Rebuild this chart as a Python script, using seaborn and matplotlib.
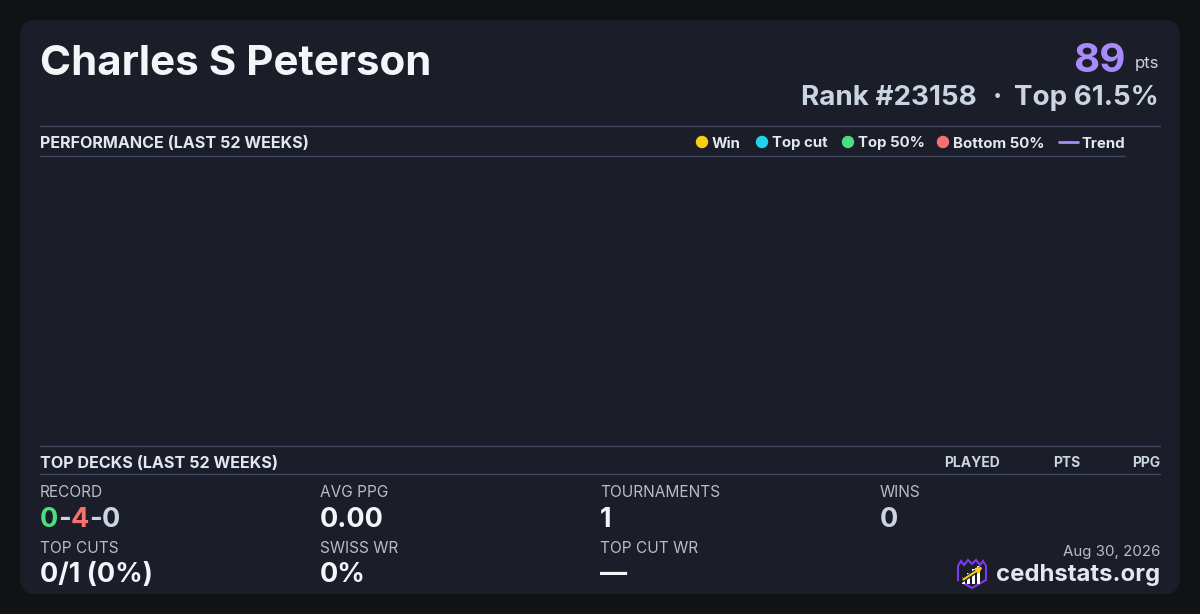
import seaborn as sns
import numpy as np
import matplotlib.pyplot as plt
import pandas as pd
from matplotlib.patches import FancyBboxPatch, Polygon, Rectangle

# player card data
player_name = "Charles S Peterson"
points = 89
rank = 23158
top_pct = 61.5
card_date = "Aug 30, 2026"
site = "cedhstats.org"

# performance chart (last 52 weeks) - nothing recorded
perf_weeks = []
perf_points = []
perf_result = []

legend_labels = ["Win", "Top cut", "Top 50%", "Bottom 50%"]
legend_colors = ["#facc15", "#22d3ee", "#4ade80", "#f87171"]
trend_label = "Trend"
deck_headers = ["PLAYED", "PTS", "PPG"]

# record W-L-D
record = [0, 4, 0]
stat_labels_row1 = ["RECORD", "AVG PPG", "TOURNAMENTS", "WINS"]
stat_values_row1 = [None, "0.00", "1", "0"]
stat_labels_row2 = ["TOP CUTS", "SWISS WR", "TOP CUT WR"]
stat_values_row2 = ["0/1 (0%)", "0%", "\u2014"]

sns.set_theme(style="dark")
plt.rcParams['font.family'] = ['Inter', 'DejaVu Sans']

BG = "#111216"
CARD = "#1b1d28"
LINE = "#3d4860"
WHITE = "#f3f5f9"
LIGHT = "#cbd5e1"
MUTED = "#b8bdc8"
PURPLE = "#a78bfa"

fig = plt.figure(figsize=(12, 6.14), dpi=100, facecolor=BG)
ax = fig.add_axes([0, 0, 1, 1])
ax.set_xlim(0, 1200)
ax.set_ylim(614, 0)
ax.axis('off')
ax.set_facecolor(BG)

ax.add_patch(FancyBboxPatch((20, 20), 1160, 574, boxstyle="round,pad=0,rounding_size=16",
                            fc=CARD, ec="none", zorder=0))

# header
ax.text(40, 75, player_name, color=WHITE, fontsize=30.3, fontweight='bold', va='baseline', ha='left')
ax.text(1126, 72, str(points), color=PURPLE, fontsize=29, fontweight='bold', va='baseline', ha='right')
ax.text(1159, 68, "pts", color=LIGHT, fontsize=12, va='baseline', ha='right')
ax.text(977, 105, f"Rank #{rank}", color=LIGHT, fontsize=20, fontweight='bold', va='baseline', ha='right')
ax.text(997, 105, "\u00b7", color=LIGHT, fontsize=20, fontweight='bold', va='baseline', ha='center')
ax.text(1159, 105, f"Top {top_pct}%", color=LIGHT, fontsize=20, fontweight='bold', va='baseline', ha='right')

# section lines
ax.plot([40, 1160], [126, 126], color=LINE, lw=1)
ax.plot([40, 1125], [156, 156], color=LINE, lw=1)
ax.plot([40, 1160], [446, 446], color=LINE, lw=1)
ax.plot([40, 1160], [474, 474], color=LINE, lw=1)

ax.text(40, 148, "PERFORMANCE (LAST 52 WEEKS)", color="#e2e8f0", fontsize=11.6, fontweight='bold', va='baseline')

# legend
leg_marker_x = [702, 762, 848, 943]
for lx, lab, col in zip(leg_marker_x, legend_labels, legend_colors):
    ax.scatter([lx], [142], s=80, color=col, edgecolor='none', zorder=3)
    ax.text(lx + 10, 147.5, lab, color="#e2e8f0", fontsize=10.8, fontweight='bold', va='baseline')
ax.plot([1059, 1078], [142, 142], color=PURPLE, lw=2)
ax.text(1082, 147.5, trend_label, color="#e2e8f0", fontsize=10.8, fontweight='bold', va='baseline')

# performance plot area (empty)
pax = fig.add_axes([40 / 1200, 1 - 446 / 614, 1085 / 1200, 290 / 614])
pax.set_facecolor('none')
pax.axis('off')
if perf_weeks:
    perf = pd.DataFrame({"week": perf_weeks, "pts": perf_points, "result": perf_result})
    sns.scatterplot(data=perf, x="week", y="pts", hue="result",
                    palette=dict(zip(legend_labels, legend_colors)), ax=pax, legend=False)
    sns.regplot(data=perf, x="week", y="pts", scatter=False, color=PURPLE, ax=pax)

# top decks header
ax.text(40, 468, "TOP DECKS (LAST 52 WEEKS)", color="#e2e8f0", fontsize=11.6, fontweight='bold', va='baseline')
for hx, h in zip([1000, 1080, 1160], deck_headers):
    ax.text(hx, 467, h, color=LIGHT, fontsize=10, fontweight='bold', va='baseline', ha='right')

# stats
col_x = [40, 320, 600, 880]
renderer = fig.canvas.get_renderer()
for cx, lab in zip(col_x, stat_labels_row1):
    ax.text(cx, 497, lab, color=MUTED, fontsize=11.1, va='baseline')
for cx, lab in zip(col_x, stat_labels_row2):
    ax.text(cx, 553, lab, color=MUTED, fontsize=11.1, va='baseline')

# record with coloured parts
x = 40
parts = [(str(record[0]), "#4ade80"), ("-", LIGHT), (str(record[1]), "#f87171"),
         ("-", LIGHT), (str(record[2]), LIGHT)]
for s, c in parts:
    t = ax.text(x, 527, s, color=c, fontsize=19.5, fontweight='bold', va='baseline')
    x += t.get_window_extent(renderer).width

val_colors1 = [None, WHITE, WHITE, LIGHT]
for cx, v, c in zip(col_x[1:], stat_values_row1[1:], val_colors1[1:]):
    ax.text(cx, 527, v, color=c, fontsize=19.5, fontweight='bold', va='baseline')
for cx, v in zip(col_x, stat_values_row2):
    ax.text(cx, 582, v, color=WHITE, fontsize=19.5, fontweight='bold', va='baseline')

# footer
ax.text(1160, 556, card_date, color=MUTED, fontsize=10.8, va='baseline', ha='right')
ax.text(1160, 581, site, color="#e2e8f0", fontsize=17.2, fontweight='bold', va='baseline', ha='right')

# logo
shield = [(958, 566), (961, 561), (964, 565), (968, 560), (972, 564), (976, 560),
          (980, 565), (983, 561), (986, 566), (986, 580), (972, 588), (958, 580)]
ax.add_patch(Polygon(shield, closed=True, fc=CARD, ec="#7c3aed", lw=1.5, zorder=4))
for bx, top in zip([963.5, 968.5, 973.5, 978.5], [577, 573, 569, 566]):
    ax.add_patch(Rectangle((bx - 1.6, top), 3.2, 584 - top, fc="white", ec="none", zorder=5))
ax.plot([961, 983], [581, 567], color=CARD, lw=3.2, zorder=6, solid_capstyle='round')
ax.annotate("", xy=(985, 565.5), xytext=(961, 581),
            arrowprops=dict(arrowstyle="-|>", color="#facc15", lw=1.5, mutation_scale=8), zorder=7)

fig.savefig("out.png", dpi=100, facecolor=BG)
